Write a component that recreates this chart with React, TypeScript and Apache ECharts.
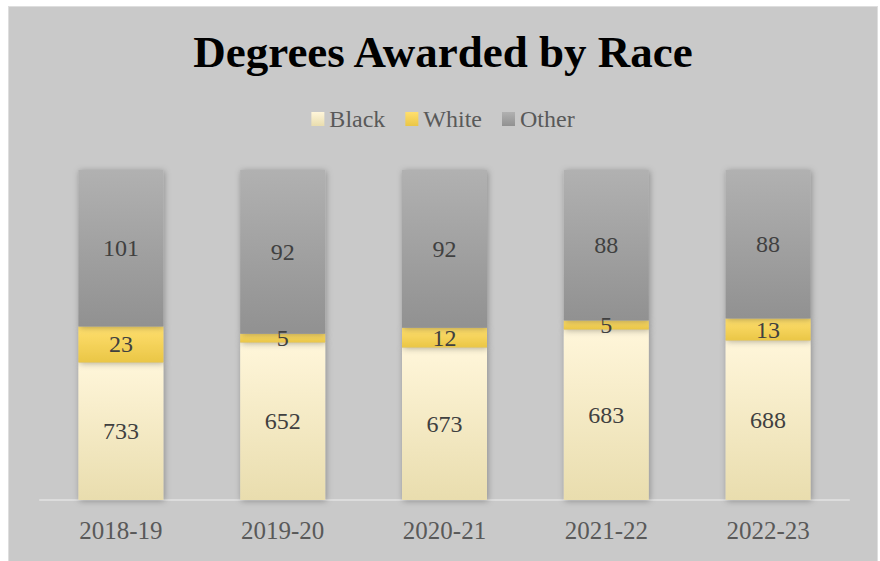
import React, { useEffect, useRef } from "react";
import * as echarts from "echarts";

const categories = ["2018-19", "2019-20", "2020-21", "2021-22", "2022-23"];
const seriesNames = ["Black", "White", "Other"];
// plotted share of each column (percent of column height)
const blackShare = [41.7, 47.7, 46.2, 51.7, 48.3];
const whiteShare = [10.9, 2.7, 6.0, 2.7, 6.7];
const otherShare = [47.4, 49.6, 47.8, 45.6, 45.0];
// data label values (counts)
const blackCount = [733, 652, 673, 683, 688];
const whiteCount = [23, 5, 12, 5, 13];
const otherCount = [101, 92, 92, 88, 88];

const FONT = "'Liberation Serif', 'Times New Roman', serif";

function grad(top: string, bottom: string) {
  return new echarts.graphic.LinearGradient(0, 0, 0, 1, [
    { offset: 0, color: top },
    { offset: 1, color: bottom },
  ]);
}

export default function App() {
  const ref = useRef<HTMLDivElement>(null);
  useEffect(() => {
    if (!ref.current) return;
    const chart = echarts.init(ref.current, undefined, { renderer: "svg" });
    const shares = [blackShare, whiteShare, otherShare];
    const counts = [blackCount, whiteCount, otherCount];
    const colors = [
      grad("#fff6da", "#e9ddae"),
      grad("#ffdf6e", "#eac646"),
      grad("#b1b1b1", "#919191"),
    ];
    chart.setOption({
      animation: false,
      backgroundColor: "#c9c9c9",
      title: {
        text: "Degrees Awarded by Race",
        left: "center",
        top: 17,
        textStyle: { fontFamily: FONT, fontSize: 45, fontWeight: "bold", color: "#000000" },
      },
      legend: {
        data: seriesNames,
        left: "center",
        top: 95,
        itemWidth: 13,
        itemHeight: 14,
        itemGap: 20,
        icon: "rect",
        textStyle: { fontFamily: FONT, fontSize: 24, color: "#595959" },
      },
      grid: { left: 31, right: 28, top: 163, bottom: 61, containLabel: false },
      xAxis: {
        type: "category",
        data: categories,
        axisLine: { show: true, lineStyle: { color: "#dcdcdc", width: 2 } },
        axisTick: { show: false },
        axisLabel: { fontFamily: FONT, fontSize: 25, color: "#595959", margin: 18 },
      },
      yAxis: { type: "value", min: 0, max: 100, show: false },
      series: seriesNames.map((name, si) => ({
        name,
        type: "bar",
        stack: "total",
        barWidth: 85,
        data: shares[si].map((v, i) => ({ value: v, label: { formatter: String(counts[si][i]) } })),
        itemStyle: {
          color: colors[si],
          shadowBlur: 6,
          shadowOffsetX: 1,
          shadowOffsetY: 1,
          shadowColor: "rgba(0,0,0,0.3)",
        },
        label: {
          show: true,
          position: "inside",
          fontFamily: FONT,
          fontSize: 24,
          color: "#404040",
        },
      })),
    });
    return () => chart.dispose();
  }, []);
  return (
    <div
      style={{
        position: "absolute",
        left: 8,
        top: 6,
        width: 870,
        height: 555,
        borderLeft: "1px solid #dedede",
        borderTop: "1px solid #dedede",
        borderRight: "1px solid #dedede",
        boxSizing: "border-box",
      }}
    >
      <div ref={ref} style={{ width: 868, height: 554 }} />
    </div>
  );
}
